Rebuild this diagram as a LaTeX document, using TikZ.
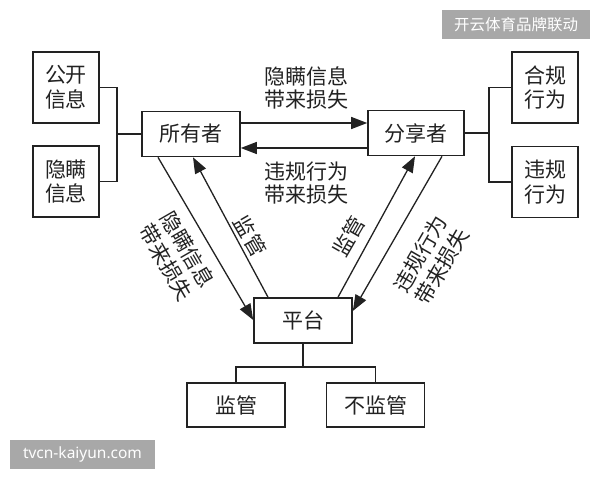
\documentclass[tikz,border=0pt]{standalone}
\usepackage{fontspec}
\newfontfamily\cjk{Noto Sans CJK SC}
\setsansfont{Noto Sans}
\usetikzlibrary{arrows.meta,calc}
\definecolor{ink}{HTML}{222222}
\definecolor{wmgrey}{HTML}{A8A8A8}
\begin{document}
\begin{tikzpicture}[x=1pt,y=1pt,
  box/.style={draw=ink,line width=1.6pt,fill=white,minimum width=98pt,minimum height=45pt,
    inner sep=0pt,align=center,text=ink,font=\cjk\fontsize{21}{24.5}\selectfont},
  sbox/.style={box,minimum width=66pt,minimum height=71pt},
  lbl/.style={inner sep=0pt,align=center,text=ink,font=\cjk\fontsize{21}{22.5}\selectfont},
  rlbl/.style={lbl,font=\cjk\fontsize{21}{25}\selectfont},
  ln/.style={draw=ink,line width=1.3pt},
  arr/.style={ln,-{Triangle[length=16pt,width=12pt]}},
  wm/.style={fill=wmgrey,text=white,inner sep=0pt}
]
\useasboundingbox (0,0) rectangle (600,480);
\fill[white] (0,0) rectangle (600,480);

% boxes
\node[sbox] (gkxx) at (66,392.5) {公开\\信息};
\node[sbox] (ymxx) at (66,298.5) {隐瞒\\信息};
\node[box]  (syz)  at (191,346) {所有者};
\node[box,minimum width=96pt] (fxz) at (416,347) {分享者};
\node[sbox] (hgxw) at (545,392.5) {合规\\行为};
\node[sbox] (wgxw) at (545,298) {违规\\行为};
\node[box] (pt) at (303,159.5) {平台};
\node[box,minimum height=44pt] (jg) at (236,75) {监管};
\node[box,minimum height=44pt] (bjg) at (375.5,75) {不监管};

% brackets
\coordinate (lb) at (117,346);
\draw[ln] (gkxx.east) -| (lb) |- (ymxx.east);
\draw[ln] (lb) -- (syz.west);
\coordinate (rb) at (489,347);
\draw[ln] (hgxw.west) -| (rb) |- (wgxw.west);
\draw[ln] (fxz.east) -- (rb);
\coordinate (bb) at (303,113);
\draw[ln] (pt.south) -- (bb);
\draw[ln] (jg.north) |- (bb) -| (bjg.north);

% horizontal arrows
\draw[arr] ($(syz.east)+(0,11)$) -- ($(fxz.west)+(0,10)$);
\draw[arr] ($(fxz.west)+(0,-15)$) -- ($(syz.east)+(0,-14)$);

% diagonal arrows
\draw[arr] ($(syz.south)+(-33,0)$) -- ($(pt.west)+(0,0.5)$);
\draw[arr] ($(pt.north)+(-35,0)$) -- ($(syz.south)+(2,0)$);
\draw[arr] ($(pt.north)+(35,0)$) -- ($(fxz.south)+(-1,0)$);
\draw[arr] ($(fxz.south)+(26,0)$) -- ($(pt.east)+(0,9.5)$);

% labels
\node[lbl] (l1) at (306,392) {隐瞒信息\\带来损失};
\node[lbl] (l2) at (306,297) {违规行为\\带来损失};
\node[rlbl,rotate=-60] (l3) at (177,224) {隐瞒信息\\带来损失};
\node[rlbl,rotate=-60] (l4) at (250,244) {监管};
\node[rlbl,rotate=60] (l5) at (349,244) {监管};
\node[rlbl,rotate=60] (l6) at (431,220) {违规行为\\带来损失};

% watermarks
\node[wm,minimum width=148pt,minimum height=29pt,font=\cjk\fontsize{15.5}{16}\selectfont] (w1) at (516,455.5) {开云体育品牌联动};
\node[wm,minimum width=145pt,minimum height=29pt,font=\sffamily\fontsize{15.5}{16}\selectfont] (w2) at (82.5,25.5) {tvcn-kaiyun.com};
\end{tikzpicture}
\end{document}
